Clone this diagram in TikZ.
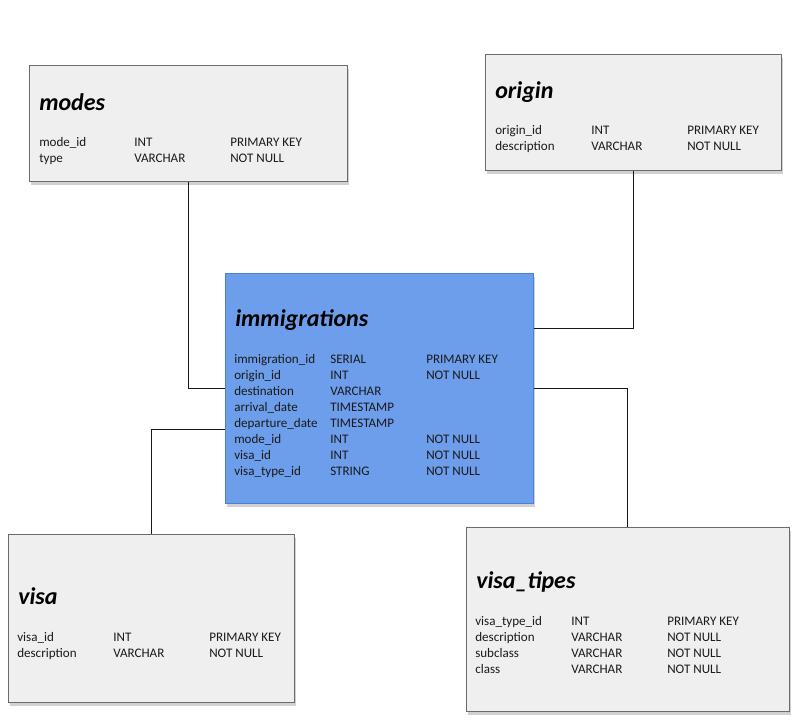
\documentclass[tikz,border=0pt]{standalone}
\usepackage{fontspec}
\setmainfont{Carlito}
\usetikzlibrary{shadows}
\definecolor{boxgray}{HTML}{EFEFEF}
\definecolor{boxline}{HTML}{6B6B6B}
\definecolor{immblue}{HTML}{6D9EEB}
\definecolor{immline}{HTML}{4A80D8}
\definecolor{txt}{HTML}{1A1A1A}
\tikzset{
  tbl/.style={draw=boxline, fill=boxgray, line width=0.75pt, inner sep=0pt,
    general shadow={fill=black, opacity=0.18, shadow xshift=1.2pt, shadow yshift=-3pt}},
  immtbl/.style={tbl, draw=immline, fill=immblue},
  ttl/.style={anchor=base west, inner sep=0pt, font=\fontsize{18}{20}\selectfont\bfseries\itshape, text=black},
  fld/.style={anchor=base west, inner sep=0pt, font=\fontsize{9.8}{11}\selectfont, text=txt},
  conn/.style={draw=black!90, line width=0.75pt}
}
\begin{document}
\begin{tikzpicture}[x=0.75pt,y=-0.75pt]
\useasboundingbox (0,0) rectangle (806,719);
% boxes
\node[tbl, minimum width=318*0.75pt, minimum height=116*0.75pt] (modes) at (188,123) {};
\node[tbl, minimum width=296*0.75pt, minimum height=116*0.75pt] (origin) at (633,112) {};
\node[immtbl, minimum width=308*0.75pt, minimum height=230*0.75pt] (imm) at (379,388) {};
\node[tbl, minimum width=286*0.75pt, minimum height=168*0.75pt] (visa) at (151,618) {};
\node[tbl, minimum width=323*0.75pt, minimum height=184*0.75pt] (vt) at (627.5,619) {};
% connectors
\draw[conn] (modes.south) |- (imm.west);
\draw[conn] (origin.south) |- ([yshift=60*0.75pt]imm.east);
\draw[conn] (visa.north) |- ([yshift=-41*0.75pt]imm.west);
\draw[conn] (vt.north) |- (imm.east);
% modes
\node[ttl] (modesT) at (39,110) {modes};
\node[fld] (m11) at (39,146) {mode\_id};
\node[fld] (m12) at (134,146) {INT};
\node[fld] (m13) at (230,146) {PRIMARY KEY};
\node[fld] (m21) at (39,162) {type};
\node[fld] (m22) at (134,162) {VARCHAR};
\node[fld] (m23) at (230,162) {NOT NULL};
% origin
\node[ttl] (originT) at (495,98) {origin};
\node[fld] (o11) at (495,134) {origin\_id};
\node[fld] (o12) at (591,134) {INT};
\node[fld] (o13) at (687,134) {PRIMARY KEY};
\node[fld] (o21) at (495,150) {description};
\node[fld] (o22) at (591,150) {VARCHAR};
\node[fld] (o23) at (687,150) {NOT NULL};
% immigrations
\node[ttl] (immT) at (235,326) {immigrations};
\node[fld] (i11) at (234,363) {immigration\_id};
\node[fld] (i12) at (330,363) {SERIAL};
\node[fld] (i13) at (426,363) {PRIMARY KEY};
\node[fld] (i21) at (234,379) {origin\_id};
\node[fld] (i22) at (330,379) {INT};
\node[fld] (i23) at (426,379) {NOT NULL};
\node[fld] (i31) at (234,395) {destination};
\node[fld] (i32) at (330,395) {VARCHAR};
\node[fld] (i41) at (234,411) {arrival\_date};
\node[fld] (i42) at (330,411) {TIMESTAMP};
\node[fld] (i51) at (234,427) {departure\_date};
\node[fld] (i52) at (330,427) {TIMESTAMP};
\node[fld] (i61) at (234,443) {mode\_id};
\node[fld] (i62) at (330,443) {INT};
\node[fld] (i63) at (426,443) {NOT NULL};
\node[fld] (i71) at (234,459) {visa\_id};
\node[fld] (i72) at (330,459) {INT};
\node[fld] (i73) at (426,459) {NOT NULL};
\node[fld] (i81) at (234,475) {visa\_type\_id};
\node[fld] (i82) at (330,475) {STRING};
\node[fld] (i83) at (426,475) {NOT NULL};
% visa
\node[ttl] (visaT) at (18,604) {visa};
\node[fld] (v11) at (17,641) {visa\_id};
\node[fld] (v12) at (113,641) {INT};
\node[fld] (v13) at (209,641) {PRIMARY KEY};
\node[fld] (v21) at (17,657) {description};
\node[fld] (v22) at (113,657) {VARCHAR};
\node[fld] (v23) at (209,657) {NOT NULL};
% visa_tipes
\node[ttl] (vtT) at (476,588) {visa\_tipes};
\node[fld] (t11) at (475,625) {visa\_type\_id};
\node[fld] (t12) at (571,625) {INT};
\node[fld] (t13) at (667,625) {PRIMARY KEY};
\node[fld] (t21) at (475,641) {description};
\node[fld] (t22) at (571,641) {VARCHAR};
\node[fld] (t23) at (667,641) {NOT NULL};
\node[fld] (t31) at (475,657) {subclass};
\node[fld] (t32) at (571,657) {VARCHAR};
\node[fld] (t33) at (667,657) {NOT NULL};
\node[fld] (t41) at (475,673) {class};
\node[fld] (t42) at (571,673) {VARCHAR};
\node[fld] (t43) at (667,673) {NOT NULL};
\end{tikzpicture}
\end{document}
